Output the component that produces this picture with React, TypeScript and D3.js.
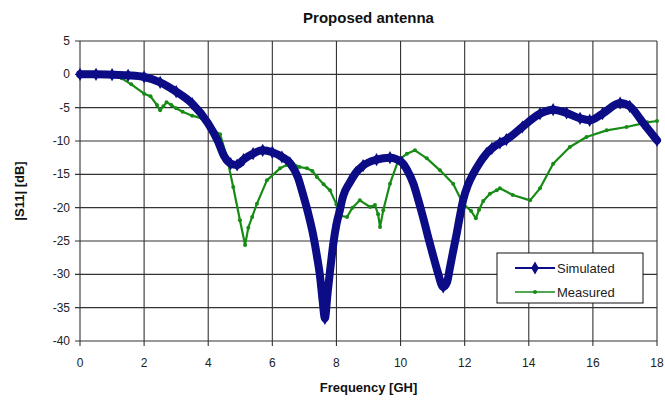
import React from 'react';
import * as d3 from 'd3';

// |S11| readings, GHz / dB
const simFreq = [0, 0.5, 1.0, 1.5, 2.0, 2.5, 3.0, 3.5, 4.0, 4.3, 4.5, 4.7, 4.9, 5.1, 5.4, 5.7, 6.0, 6.3, 6.55, 6.8, 6.95, 7.1, 7.27, 7.4, 7.48, 7.56, 7.64, 7.72, 7.8, 7.9, 8.0, 8.1, 8.2, 8.42, 8.6, 8.83, 9.25, 9.67, 10.04, 10.2, 10.4, 10.55, 10.7, 10.85, 11.0, 11.15, 11.33, 11.45, 11.54, 11.65, 11.75, 11.85, 11.95, 12.1, 12.27, 12.48, 12.68, 12.85, 13.1, 13.3, 13.8, 14.35, 14.76, 15.18, 15.6, 15.9, 16.3, 16.85, 17.15, 17.57, 18];
const simDb = [0, 0, -0.05, -0.15, -0.4, -1.2, -2.6, -4.4, -7.4, -10, -12.3, -13.4, -13.6, -12.8, -11.9, -11.4, -11.7, -12.4, -13.3, -15.5, -17.9, -20.5, -24, -27.5, -30, -33.5, -36.6, -33, -29.5, -25.5, -22.5, -20.5, -18.4, -16.2, -14.8, -13.7, -12.8, -12.5, -13.2, -14.3, -16.4, -18.8, -21.4, -24.2, -26.9, -29.5, -31.9, -31.2, -29, -26.3, -23.9, -21.3, -18.9, -16.6, -14.9, -13.2, -11.9, -11.1, -10.3, -9.8, -7.9, -5.9, -5.3, -5.8, -6.6, -6.9, -5.9, -4.3, -4.8, -7.3, -9.9];

const measFreq = [0, 0.5, 1.0, 1.3, 1.6, 2.0, 2.2, 2.4, 2.5, 2.6, 2.7, 2.85, 3.0, 3.2, 3.5, 3.8, 4.0, 4.15, 4.37, 4.58, 4.78, 4.99, 5.15, 5.25, 5.37, 5.52, 5.83, 6.24, 6.45, 6.65, 6.85, 7.08, 7.25, 7.39, 7.6, 7.8, 8.0, 8.1, 8.33, 8.5, 8.73, 9.05, 9.2, 9.3, 9.36, 9.46, 9.67, 9.93, 10.2, 10.45, 10.82, 11.23, 11.64, 11.95, 12.2, 12.35, 12.45, 12.58, 12.79, 13.0, 13.1, 13.5, 14.04, 14.35, 14.76, 15.28, 15.8, 16.43, 17.05, 17.7, 18];
const measDb = [0, 0, -0.1, -0.6, -1.5, -2.9, -3.3, -4.6, -5.4, -4.8, -4.2, -4.6, -5.1, -5.6, -6.2, -6.6, -7.4, -8.3, -9, -12.4, -16.9, -21.9, -25.6, -23, -21.4, -19.4, -15.9, -14.1, -13.6, -13.4, -13.9, -14.1, -14.5, -15.4, -16.5, -17.4, -19.5, -21.2, -21.4, -20, -18.9, -19.9, -19.6, -21, -22.9, -20.4, -16.4, -12.9, -11.9, -11.4, -12.6, -14.4, -16.4, -19.4, -20.5, -21.6, -20.3, -19, -17.9, -17.4, -17.1, -18.1, -18.9, -17.1, -13.4, -10.9, -9.4, -8.4, -7.9, -7.2, -7];

const xTicks = [0, 2, 4, 6, 8, 10, 12, 14, 16, 18];
const yTicks = [5, 0, -5, -10, -15, -20, -25, -30, -35, -40];

const W = 665, H = 404;
const m = { top: 41, right: 8, bottom: 63, left: 80 };

export default function App() {
  const x = d3.scaleLinear().domain([0, 18]).range([m.left, W - m.right]);
  const y = d3.scaleLinear().domain([-40, 5]).range([H - m.bottom, m.top]);

  const sim = simFreq.map((f, i) => [f, simDb[i]] as [number, number]);
  const meas = measFreq.map((f, i) => [f, measDb[i]] as [number, number]);

  const simLine = d3.line<[number, number]>().x(d => x(d[0])).y(d => y(d[1])).curve(d3.curveMonotoneX);
  const measLine = d3.line<[number, number]>().x(d => x(d[0])).y(d => y(d[1]));
  const diamond = d3.symbol(d3.symbolDiamond, 50)();

  const navy = '#0c0c86';
  const green = '#168c16';
  const font = 'Liberation Sans, Arial, sans-serif';

  return (
    <svg width={W} height={H} style={{ position: 'absolute', left: 0, top: 0, background: '#fff' }} fontFamily={font}>
      <text x={(x(0) + x(18)) / 2} y={23} textAnchor="middle" fontSize={15} fontWeight="bold" fill="#111">Proposed antenna</text>

      {/* grid */}
      {xTicks.map(t => (
        <line key={'gx' + t} x1={x(t)} x2={x(t)} y1={y(5)} y2={y(-40) + 5} stroke="#333" strokeWidth={1.1} />
      ))}
      {yTicks.map(t => (
        <line key={'gy' + t} x1={x(0) - 5} x2={x(18)} y1={y(t)} y2={y(t)} stroke="#333" strokeWidth={1.1} />
      ))}

      {yTicks.map(t => (
        <text key={'ty' + t} x={x(0) - 10} y={y(t) + 4} textAnchor="end" fontSize={12} fill="#222">{t}</text>
      ))}
      {xTicks.map(t => (
        <text key={'tx' + t} x={x(t)} y={y(-40) + 26} textAnchor="middle" fontSize={12} fill="#222">{t}</text>
      ))}

      <text x={(x(0) + x(18)) / 2} y={392} textAnchor="middle" fontSize={13} fontWeight="bold" fill="#111">Frequency [GH]</text>
      <text transform={`translate(24,${(y(5) + y(-40)) / 2}) rotate(-90)`} textAnchor="middle" fontSize={13} fontWeight="bold" fill="#111">|S11| [dB]</text>

      {/* measured */}
      <path d={measLine(meas) ?? ''} fill="none" stroke={green} strokeWidth={2.2} strokeLinejoin="round" />
      {meas.map((d, i) => (
        <circle key={'mm' + i} cx={x(d[0])} cy={y(d[1])} r={2} fill={green} />
      ))}

      {/* simulated */}
      <path d={simLine(sim) ?? ''} fill="none" stroke={navy} strokeWidth={8} strokeLinejoin="round" strokeLinecap="round" />
      {sim.map((d, i) => (
        <path key={'sm' + i} d={diamond ?? ''} transform={`translate(${x(d[0])},${y(d[1])})`} fill={navy} />
      ))}

      {/* legend */}
      <rect x={497} y={253} width={146} height={50} fill="#fff" stroke="#111" strokeWidth={1} />
      <line x1={515} x2={555} y1={268} y2={268} stroke={navy} strokeWidth={2} />
      <path d={diamond ?? ''} transform="translate(535,268)" fill={navy} />
      <text x={557} y={273} fontSize={13} fill="#222">Simulated</text>
      <line x1={515} x2={555} y1={292} y2={292} stroke={green} strokeWidth={1.5} />
      <circle cx={535} cy={292} r={2} fill={green} />
      <text x={557} y={297} fontSize={13} fill="#222">Measured</text>
    </svg>
  );
}
